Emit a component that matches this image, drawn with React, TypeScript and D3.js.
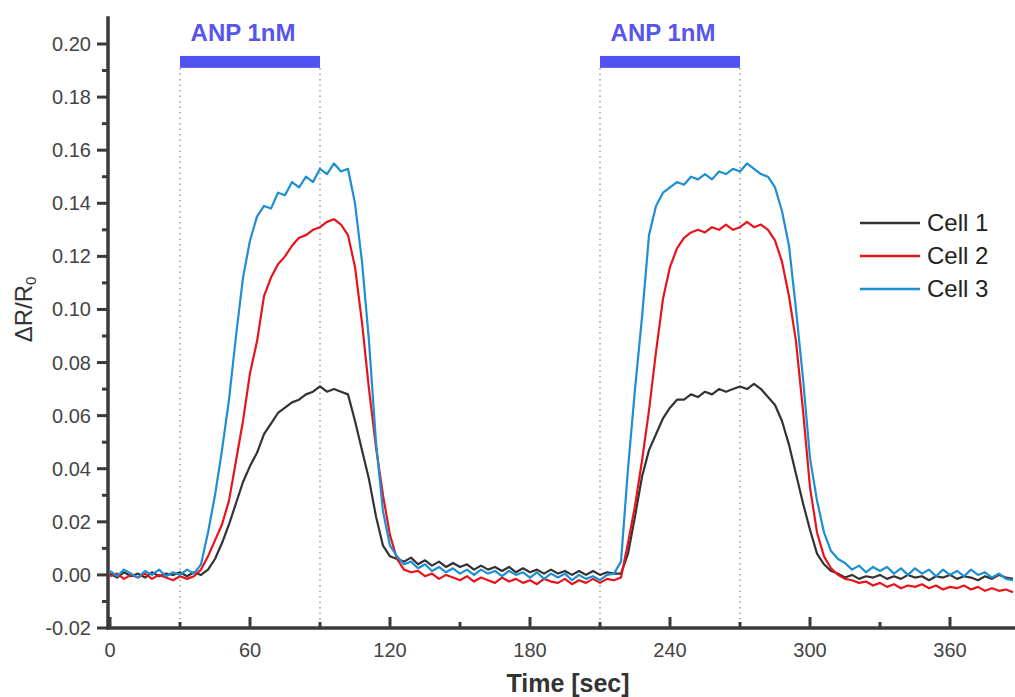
import React from 'react';
import * as d3 from 'd3';

// sampled every 3 s, values in units of 1e-3 (ΔR/R0)
const STEP = 3;

const cell1 = [
  0.5, -1, 1, -0.5, 0.5, -1, 1, -0.5, 0.5, 0,
  1, -0.5, 1, 0, 2, 6, 12, 19, 27, 35,
  41, 46, 53, 57, 61, 63, 65, 66, 68, 69,
  71, 69, 70, 69, 68, 58, 47, 36, 22, 11,
  7, 6, 5, 6.5, 4, 5.5, 3.5, 5, 3, 4.5,
  3, 4, 2, 3.5, 2, 3, 1.5, 3, 1, 2.5,
  1, 2, 0.5, 2, 0.5, 1.5, 0, 1.5, 0, 1.5,
  0, 1, 0.5, 0.5, 8, 22, 37, 47, 53, 59,
  63, 66, 66, 68, 67, 69, 68, 70, 69, 70,
  71, 70, 72, 70, 67, 64, 58, 49, 38, 27,
  17, 8, 4, 1.5, 0.5, -1, 0, -1.5, -0.5, -1,
  0, -1.5, -0.5, -1.5, 0, -1, -0.5, -2, -0.5, -1,
  0, -1.5, -0.5, -1, -2, -0.5, -1.5, 0, -1, -1.5,
];

const cell2 = [
  -0.5, 0.5, -1.5, 0, -1, 0.5, -1.5, 0, -1, -2,
  -0.5, -1.5, -0.5, 2, 7, 13, 19, 28, 43, 58,
  76, 88, 105, 112, 117, 120, 124, 127, 128, 130,
  131, 133, 134, 132, 128, 116, 95, 70, 48, 30,
  15, 6, 2, 1, 1.5, -0.5, 0.5, -1.5, 0, -1,
  -2, -0.5, -2.5, -1, -2, -3, -1, -2.5, -1.5, -3,
  -2, -3.5, -1.5, -2.5, -3, -1.5, -3.5, -2, -3, -1.5,
  -3, -1.5, -2, -1, 12, 26, 43, 62, 84, 104,
  116, 123, 127, 129, 130, 129, 131, 130, 132, 130,
  131, 133, 131, 132, 130, 126, 118, 105, 88, 62,
  33, 16, 7, 2.5, 0, -1.5, -2, -3, -2.5, -4,
  -3, -4.5, -3.5, -5, -4, -4.5, -3.5, -5, -4, -5.5,
  -4.5, -5, -4, -5.5, -4.5, -6, -5, -6, -5.5, -6.5,
];

const cell3 = [
  1.5, -0.5, 2.0, 0.5, -1.0, 1.5, 0.0, 2.0, -0.5, 1.0,
  0.0, 2.0, 0.5, 4.0, 16, 30, 47, 66, 90, 112,
  126, 135, 139, 138, 144, 143, 148, 146, 150, 148,
  153, 151, 155, 152, 153, 140, 118, 88, 50, 24,
  11, 7, 4, 5, 2.5, 4, 1.5, 3, 1, 2.5,
  0.5, 2, 0, 2, 0.5, 1.5, -0.5, 1.5, 0, 1,
  -1, 1, -1.5, 0.5, -1, 0.5, -2, 0, -1.5, -0.5,
  -2, 0, 0.5, 5, 40, 70, 97, 128, 139, 144,
  146, 148, 147, 150, 149, 151, 149, 152, 151, 153,
  152, 155, 153, 151, 150, 146, 137, 124, 100, 74,
  44, 28, 16, 9, 6, 4.5, 2, 3.5, 1, 3,
  1.5, 3, 0.5, 2.5, 0, 2.5, 0.5, 2, -0.5, 2,
  0, 1.5, -0.5, 2, 0, 1, -1, 0.5, -1.5, -2,
];

const seriesNames = ['Cell 1', 'Cell 2', 'Cell 3'];
const seriesColors = ['#333333', '#e8141c', '#1d8fd2'];

const stimuli = [[30, 90], [210, 270]];
const stimulusLabel = 'ANP 1nM';

const xMajor = [0, 60, 120, 180, 240, 300, 360];
const xMinor = [30, 90, 150, 210, 270, 330];
const yMajor = [-0.02, 0, 0.02, 0.04, 0.06, 0.08, 0.1, 0.12, 0.14, 0.16, 0.18, 0.2];
const yMinor = [-0.01, 0.01, 0.03, 0.05, 0.07, 0.09, 0.11, 0.13, 0.15, 0.17, 0.19];

const W = 1015;
const H = 697;
const FONT = '"Liberation Sans", Arial, Helvetica, sans-serif';
const AXIS = '#3a3a3a';

export default function App() {
  const x = d3.scaleLinear().domain([0, 390]).range([110, 1020]);
  const y = d3.scaleLinear().domain([-0.02, 0.2]).range([628, 44]);

  const series = [cell1, cell2, cell3].map((vals) =>
    vals.map((v, i) => ({ t: i * STEP, v: v / 1000 }))
  );
  const line = d3
    .line<{ t: number; v: number }>()
    .x((d) => x(d.t))
    .y((d) => y(d.v));

  const x0 = x(0) - 2;
  const yAxisY = y(-0.02);
  const barTop = y(0.1955);
  const barBottom = y(0.191);

  return (
    <svg
      width={W}
      height={H}
      style={{ position: 'absolute', left: 0, top: 0, background: '#fff' }}
      fontFamily={FONT}
    >
      <defs>
        <clipPath id="plot">
          <rect x={x0} y={0} width={W - x0} height={yAxisY} />
        </clipPath>
      </defs>

      {/* stimulus bars and dotted guides */}
      {stimuli.map(([a, b], i) => (
        <g key={i}>
          {[a, b].map((t) => (
            <line
              key={t}
              x1={x(t)}
              x2={x(t)}
              y1={barBottom}
              y2={yAxisY}
              stroke="#8c8cb0"
              strokeWidth={1.3}
              strokeDasharray="1.5,4"
            />
          ))}
          <rect
            x={x(a)}
            y={barTop}
            width={x(b) - x(a)}
            height={barBottom - barTop}
            fill="#5252f0"
          />
          <text
            x={(x(a) + x(b)) / 2 - 7}
            y={41}
            textAnchor="middle"
            fontSize={24}
            fontWeight="bold"
            fill="#5656ec"
          >
            {stimulusLabel}
          </text>
        </g>
      ))}

      {/* traces */}
      <g clipPath="url(#plot)">
        {series.map((s, i) => (
          <path
            key={i}
            d={line(s) || ''}
            fill="none"
            stroke={seriesColors[i]}
            strokeWidth={2.2}
            strokeLinejoin="round"
          />
        ))}
      </g>

      {/* y axis */}
      <line x1={x0} x2={x0} y1={y(0.2105)} y2={yAxisY + 1.5} stroke={AXIS} strokeWidth={3.5} />
      {yMajor.map((v) => (
        <g key={v}>
          <line x1={x0 - 11} x2={x0} y1={y(v)} y2={y(v)} stroke={AXIS} strokeWidth={3} />
          <text
            x={x0 - 17}
            y={y(v)}
            dy="0.35em"
            textAnchor="end"
            fontSize={20}
            fill="#444"
          >
            {v.toFixed(2)}
          </text>
        </g>
      ))}
      {yMinor.map((v) => (
        <line key={v} x1={x0 - 6} x2={x0} y1={y(v)} y2={y(v)} stroke={AXIS} strokeWidth={3} />
      ))}
      <text
        transform={`translate(32, ${y(0.1)}) rotate(-90)`}
        textAnchor="middle"
        fontSize={24}
        fill="#333"
      >
        ΔR/R<tspan fontSize={15} dy="4">0</tspan>
      </text>

      {/* x axis */}
      <line x1={x0 - 1.5} x2={W} y1={yAxisY} y2={yAxisY} stroke={AXIS} strokeWidth={3.5} />
      {xMajor.map((t) => (
        <g key={t}>
          <line x1={x(t)} x2={x(t)} y1={yAxisY} y2={yAxisY - 11} stroke={AXIS} strokeWidth={3} />
          <text x={x(t)} y={yAxisY + 29} textAnchor="middle" fontSize={20} fill="#444">
            {t}
          </text>
        </g>
      ))}
      {xMinor.map((t) => (
        <line key={t} x1={x(t)} x2={x(t)} y1={yAxisY} y2={yAxisY - 6} stroke={AXIS} strokeWidth={3} />
      ))}
      <text x={568} y={692} textAnchor="middle" fontSize={25} fontWeight="bold" fill="#333">
        Time [sec]
      </text>

      {/* legend */}
      {seriesNames.map((name, i) => (
        <g key={name} transform={`translate(860, ${223 + i * 33})`}>
          <line x1={0} x2={60} y1={0} y2={0} stroke={seriesColors[i]} strokeWidth={2.5} />
          <text x={67} y={0} dy="0.35em" fontSize={24} fill="#222">
            {name}
          </text>
        </g>
      ))}
    </svg>
  );
}
